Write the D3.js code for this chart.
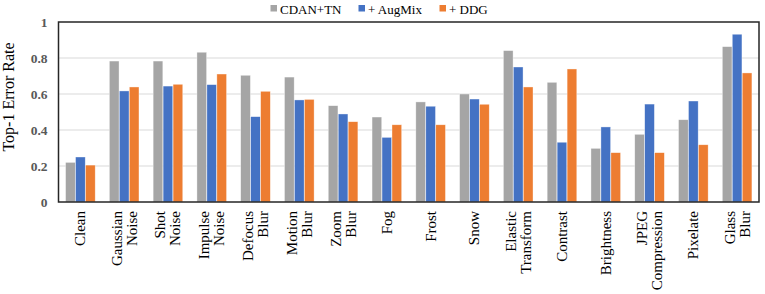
<!DOCTYPE html>
<html>
<head>
<meta charset="utf-8">
<script src="https://cdn.jsdelivr.net/npm/d3@7"></script>
<style>
  body { margin: 0; background: #fff; }
  text { font-family: "Liberation Serif", "Times New Roman", serif; }
</style>
</head>
<body>
<svg class="chart"></svg>
<script>
// corruption categories, each label split into lines
var categories = ["Clean", "Gaussian Noise", "Shot Noise", "Impulse Noise", "Defocus Blur",
    "Motion Blur", "Zoom Blur", "Fog", "Frost", "Snow", "Elastic Transform", "Contrast",
    "Brightness", "JPEG Compression", "Pixelate", "Glass Blur"];

var seriesNames = ["CDAN+TN", "+ AugMix", "+ DDG"];

var cdanTN = [0.22, 0.783, 0.783, 0.832, 0.704, 0.694, 0.535, 0.472, 0.556, 0.600, 0.841, 0.665, 0.298, 0.376, 0.457, 0.863];
var augMix = [0.25, 0.617, 0.644, 0.652, 0.474, 0.567, 0.489, 0.359, 0.532, 0.572, 0.750, 0.332, 0.417, 0.544, 0.561, 0.932];
var ddg    = [0.205, 0.639, 0.654, 0.711, 0.615, 0.570, 0.446, 0.429, 0.429, 0.543, 0.639, 0.739, 0.274, 0.274, 0.318, 0.717];

var yTicks = [0, 0.2, 0.4, 0.6, 0.8, 1];

var colors = ["#a5a5a5", "#4472c4", "#ed7d31"];

var W = 765, H = 294;
var margin = { top: 22, right: 6, bottom: 92, left: 58.5 },
    width = W - margin.left - margin.right,
    height = H - margin.top - margin.bottom;

var svg = d3.select(".chart").attr("width", W).attr("height", H);
var g = svg.append("g").attr("transform", "translate(" + margin.left + "," + margin.top + ")");

var x0 = d3.scaleBand().domain(categories).range([0, width]).paddingInner(0.31).paddingOuter(0.155);
var x1 = d3.scaleBand().domain(seriesNames).range([0, x0.bandwidth()]).padding(0.03);
var y = d3.scaleLinear().domain([0, 1]).range([height, 0]);

var rows = categories.map(function(c, i) {
    return { cat: c, vals: [cdanTN[i], augMix[i], ddg[i]] };
});

// gridlines
g.append("g")
    .selectAll("line")
    .data(yTicks.filter(function(t) { return t > 0 && t < 1; }))
    .enter().append("line")
    .attr("x1", 0).attr("x2", width)
    .attr("y1", function(d) { return y(d); })
    .attr("y2", function(d) { return y(d); })
    .attr("stroke", "#d9d9d9")
    .attr("stroke-width", 1);

// bars
var groups = g.selectAll(".grp")
    .data(rows)
    .enter().append("g")
    .attr("class", "grp")
    .attr("transform", function(d) { return "translate(" + x0(d.cat) + ",0)"; });

groups.selectAll("rect")
    .data(function(d) { return d.vals.map(function(v, i) { return { s: seriesNames[i], v: v, i: i }; }); })
    .enter().append("rect")
    .attr("x", function(d) { return x1(d.s); })
    .attr("width", x1.bandwidth())
    .attr("y", function(d) { return y(d.v); })
    .attr("height", function(d) { return y(0) - y(d.v); })
    .attr("fill", function(d) { return colors[d.i]; })
    .attr("stroke", "#ffffff")
    .attr("stroke-opacity", 0.6)
    .attr("stroke-width", 0.6);

// plot frame
g.append("rect")
    .attr("x", 0).attr("y", 0)
    .attr("width", width).attr("height", height)
    .attr("fill", "none")
    .attr("stroke", "#262626")
    .attr("stroke-width", 1.5);

// y axis labels
var yAxis = d3.axisLeft(y).tickValues(yTicks).tickSize(0).tickPadding(11)
    .tickFormat(function(d) { return d3.format("")(d); });
g.append("g")
    .call(yAxis)
    .call(function(s) { s.select(".domain").remove(); })
    .selectAll("text")
    .style("font-family", "'Liberation Serif', serif")
    .style("font-size", "13.5px")
    .style("font-weight", "bold")
    .attr("fill", "#595959");

// y axis title
svg.append("text")
    .attr("transform", "translate(14,97) rotate(-90)")
    .attr("text-anchor", "middle")
    .style("font-size", "16px")
    .attr("fill", "#000")
    .text("Top-1 Error Rate");

// x labels, rotated, split over two lines
rows.forEach(function(d) {
    var lines = d.cat.split(" ");
    var cx = margin.left + x0(d.cat) + x0.bandwidth() / 2;
    var lh = 15;
    lines.forEach(function(line, k) {
        var off = (k - (lines.length - 1) / 2) * lh;
        svg.append("text")
            .attr("transform", "translate(" + (cx + off) + "," + (margin.top + height + 9) + ") rotate(-90)")
            .attr("text-anchor", "end")
            .attr("dy", "0.33em")
            .style("font-size", "15px")
            .attr("fill", "#000")
            .text(line);
    });
});

// legend
var legendX = [270.5, 358.5, 439.5];
var legend = svg.append("g");
seriesNames.forEach(function(name, i) {
    legend.append("rect")
        .attr("x", legendX[i]).attr("y", 5)
        .attr("width", 6.5).attr("height", 6.5)
        .attr("fill", colors[i]);
    legend.append("text")
        .attr("x", legendX[i] + 9.5).attr("y", 13.5)
        .style("font-size", "13px")
        .attr("fill", "#000")
        .text(name);
});
</script>
</body>
</html>
